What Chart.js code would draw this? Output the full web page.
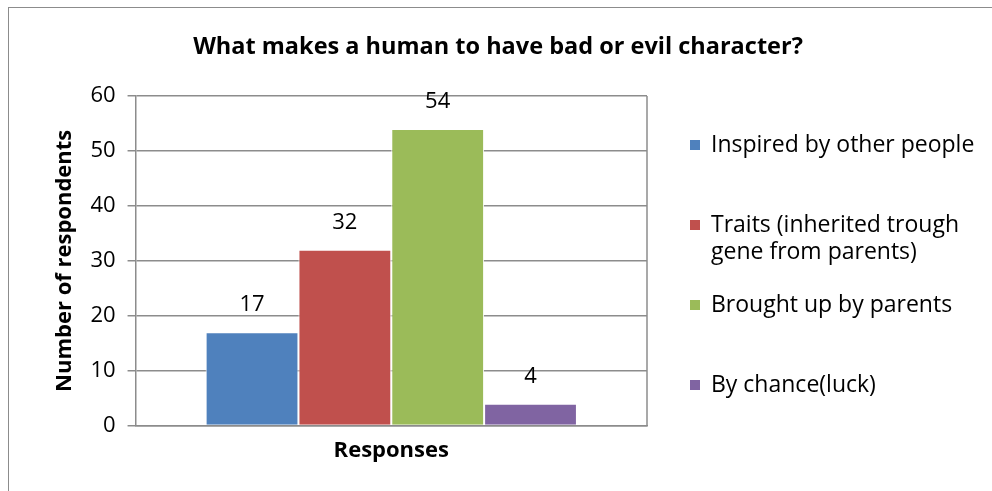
<!DOCTYPE html>
<html>
<head>
<meta charset="utf-8">
<script src="https://cdn.jsdelivr.net/npm/chart.js@4.4.1/dist/chart.umd.min.js"></script>
<style>
  html, body { margin: 0; padding: 0; background: #fff; }
  #wrap { position: relative; width: 992px; height: 491px; }
  #frame { position: absolute; left: 8px; top: 7px; right: 0; bottom: 0;
           border-left: 1px solid #8c8c8c; border-top: 1px solid #8c8c8c; }
  canvas { position: absolute; left: 0; top: 0; }
</style>
</head>
<body>
<div id="wrap">
  <div id="frame"></div>
  <canvas id="mycanvas" width="992" height="491"></canvas>
</div>
<script>
var chartTitle = "What makes a human to have bad or evil character?";
var categories = ["Responses"];
var seriesLabels = [
  ["Inspired by other people"],
  ["Traits (inherited trough", "gene from parents)"],
  ["Brought up by parents"],
  ["By chance(luck)"]
];
var seriesValues = [17, 32, 54, 4];
var seriesColors = ["#4F81BD", "#C0504D", "#9BBB59", "#8064A2"];
var yTicks = [0, 10, 20, 30, 40, 50, 60];

var FONT = "'Open Sans', sans-serif";

var datasets = [];
for (var i in seriesValues) {
  datasets.push({
    label: seriesLabels[i].join(" "),
    data: [seriesValues[i]],
    backgroundColor: seriesColors[i],
    borderColor: "#ffffff",
    borderWidth: 1,
    barPercentage: 1,
    categoryPercentage: 0.726
  });
}

// value labels above bars
var valueLabels = {
  id: "valueLabels",
  afterDatasetsDraw: function(chart) {
    var ctx = chart.ctx;
    ctx.save();
    ctx.font = "22px " + FONT;
    ctx.fillStyle = "#000";
    ctx.textAlign = "center";
    ctx.textBaseline = "middle";
    chart.data.datasets.forEach(function(ds, i) {
      var bar = chart.getDatasetMeta(i).data[0];
      ctx.fillText(ds.data[0], bar.x, bar.y - 27);
    });
    ctx.restore();
  }
};

// title, right border of plot area, legend
var extras = {
  id: "extras",
  afterDraw: function(chart) {
    var ctx = chart.ctx;
    var a = chart.chartArea;
    ctx.save();
    ctx.strokeStyle = "#8c8c8c";
    ctx.lineWidth = 1.5;
    ctx.beginPath();
    ctx.moveTo(a.right, a.top);
    ctx.lineTo(a.right, a.bottom);
    ctx.stroke();

    ctx.fillStyle = "#000";
    ctx.textAlign = "center";
    ctx.textBaseline = "middle";
    ctx.font = "bold 23.5px " + FONT;
    ctx.fillText(chartTitle, 498, 47);

    ctx.font = "23px " + FONT;
    ctx.textAlign = "left";
    var x = a.right + 43;
    var y = a.top + 49;
    for (var i = 0; i < seriesLabels.length; i++) {
      ctx.fillStyle = seriesColors[i];
      ctx.fillRect(x, y - 5, 10, 10);
      ctx.fillStyle = "#000";
      for (var j = 0; j < seriesLabels[i].length; j++) {
        ctx.fillText(seriesLabels[i][j], x + 21, y + j * 27);
      }
      y += 80;
    }
    ctx.restore();
  }
};

var ctx = document.getElementById("mycanvas");
var chart = new Chart(ctx, {
  type: "bar",
  data: { labels: categories, datasets: datasets },
  plugins: [valueLabels, extras],
  options: {
    responsive: false,
    animation: false,
    layout: { padding: { left: 48, right: 345, top: 96, bottom: 23 } },
    plugins: {
      legend: { display: false },
      tooltip: { enabled: false },
      title: { display: false }
    },
    scales: {
      x: {
        grid: { display: false },
        border: { display: true, color: "#8c8c8c", width: 1.5 },
        ticks: { display: false },
        title: {
          display: true,
          text: "Responses",
          color: "#000",
          font: { family: FONT, size: 22, weight: "bold" },
          padding: { top: 4 }
        }
      },
      y: {
        min: 0,
        max: 60,
        afterBuildTicks: function(axis) {
          axis.ticks = yTicks.map(function(v) { return { value: v }; });
        },
        grid: { color: "#8c8c8c", lineWidth: 1.5, tickLength: 8, drawTicks: true },
        border: { display: true, color: "#8c8c8c", width: 1.5 },
        ticks: {
          color: "#000",
          padding: 12,
          font: { family: FONT, size: 22 }
        },
        title: {
          display: true,
          text: "Number of respondents",
          color: "#000",
          font: { family: FONT, size: 22, weight: "bold" },
          padding: { bottom: 0 }
        }
      }
    }
  }
});
</script>
</body>
</html>
